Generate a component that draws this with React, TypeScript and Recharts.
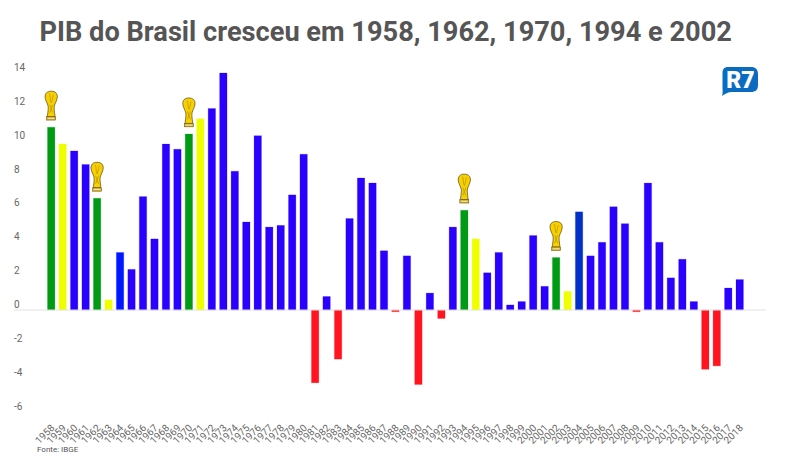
import { Bar, BarChart, Cell, LabelList, ReferenceLine, XAxis, YAxis } from 'recharts';

const YEARS = [
  '1958', '1959', '1960', '1961', '1962', '1963', '1964', '1965', '1966', '1967', '1968', '1969',
  '1970', '1971', '1972', '1973', '1974', '1975', '1976', '1977', '1978', '1979', '1980', '1981',
  '1982', '1983', '1984', '1985', '1986', '1987', '1988', '1989', '1990', '1991', '1992', '1993',
  '1994', '1995', '1996', '1997', '1998', '1999', '2000', '2001', '2002', '2003', '2004', '2005',
  '2006', '2007', '2008', '2009', '2010', '2011', '2012', '2013', '2014', '2015', '2016', '2017',
  '2018',
];

const GROWTH = [
  10.8, 9.8, 9.4, 8.6, 6.6, 0.6, 3.4, 2.4, 6.7, 4.2, 9.8, 9.5,
  10.4, 11.3, 11.9, 14.0, 8.2, 5.2, 10.3, 4.9, 5.0, 6.8, 9.2, -4.3,
  0.8, -2.9, 5.4, 7.8, 7.5, 3.5, -0.1, 3.2, -4.4, 1.0, -0.5, 4.9,
  5.9, 4.2, 2.2, 3.4, 0.3, 0.5, 4.4, 1.4, 3.1, 1.1, 5.8, 3.2,
  4.0, 6.1, 5.1, -0.1, 7.5, 4.0, 1.9, 3.0, 0.5, -3.5, -3.3, 1.3,
  1.8,
];

const CUP_YEARS = ['1958', '1962', '1970', '1994', '2002'];
const AFTER_CUP_YEARS = ['1959', '1963', '1971', '1995', '2003'];
const Y_TICKS = [-6, -4, -2, 0, 2, 4, 6, 8, 10, 12, 14];

const data = YEARS.map((year, i) => ({ year, growth: GROWTH[i] }));

function barColor(year: string, value: number) {
  if (CUP_YEARS.includes(year)) return '#009a14';
  if (AFTER_CUP_YEARS.includes(year)) return '#f0ff00';
  if (value < 0) return '#ff1420';
  if (year === '2004') return '#0030c8';
  if (year === '1964') return '#0018ff';
  return '#2a00ff';
}

function YTick({ y, payload }: any) {
  return (
    <text x={14} y={y - 5.5} dy={3.5} fontSize={10} fontFamily="Roboto" fill="#666" textAnchor="start">
      {payload.value}
    </text>
  );
}

function XTick({ x, y, payload }: any) {
  return (
    <text
      x={x + 4}
      y={y + 9}
      fontSize={10}
      fontFamily="Roboto"
      fill="#666"
      textAnchor="end"
      transform={`rotate(-45 ${x + 4} ${y + 9})`}
    >
      {payload.value}
    </text>
  );
}

// trofeu desenhado acima das barras dos anos de Copa
function Trophy({ x, y, width, index }: any) {
  if (!CUP_YEARS.includes(YEARS[index])) return null;
  const cx = x + width / 2;
  return (
    <g transform={`translate(${cx - 6.5} ${y - 36.5})`}>
      <path
        d="M6.5 0.5 C10.8 0.5 12.8 3 12.6 6.4 C12.4 10 10.2 12.5 9.6 15.5 C9.2 18 9.8 21 10.2 24.5 L10.2 26 L2.8 26 L2.8 24.5 C3.2 21 3.8 18 3.4 15.5 C2.8 12.5 0.6 10 0.4 6.4 C0.2 3 2.2 0.5 6.5 0.5 Z"
        fill="#f7d000"
        stroke="#3a2a00"
        strokeWidth={0.6}
      />
      <path d="M4.5 3 C6 5 5 9 6.5 12 M8.5 4 C8 7 7.5 10 6.5 12 M5 14 L8 22 M8 14 L5 22" stroke="#b89000" strokeWidth={0.7} fill="none" />
      <rect x={2} y={26} width={9} height={3.4} fill="#d8b020" stroke="#5a4a00" strokeWidth={0.5} />
      <rect x={3.2} y={27.2} width={6.6} height={1} fill="#e8e8c8" />
    </g>
  );
}

export default function App() {
  return (
    <div
      style={{
        position: 'absolute',
        left: 0,
        top: 0,
        width: 791,
        height: 462,
        background: '#fff',
        overflow: 'hidden',
      }}
    >
      <div
        style={{
          position: 'absolute',
          left: 39.5,
          top: 15.5,
          fontFamily: 'Roboto',
          fontWeight: 700,
          fontSize: 27.2,
          lineHeight: '32px',
          color: '#555',
          whiteSpace: 'nowrap',
        }}
      >
        PIB do Brasil cresceu em 1958, 1962, 1970, 1994 e 2002
      </div>

      <BarChart
        width={791}
        height={462}
        data={data}
        margin={{ top: 73, right: 25, left: 14, bottom: 0 }}
        barSize={7.4}
      >
        <XAxis
          dataKey="year"
          interval={0}
          height={50.4}
          axisLine={false}
          tickLine={false}
          padding={{ left: 31.5, right: 20.5 }}
          tick={<XTick />}
        />
        <YAxis
          mirror
          width={30}
          domain={[-6, 14]}
          ticks={Y_TICKS}
          axisLine={false}
          tickLine={false}
          tick={<YTick />}
        />
        <ReferenceLine y={0} stroke="#e2e2e2" strokeWidth={1} />
        <Bar dataKey="growth" isAnimationActive={false} strokeWidth={0.6}>
          {data.map((entry) => (
            <Cell
              key={entry.year}
              fill={barColor(entry.year, entry.growth)}
              stroke={barColor(entry.year, entry.growth)}
              strokeOpacity={0.35}
            />
          ))}
          <LabelList dataKey="growth" content={<Trophy />} />
        </Bar>
      </BarChart>

      <div
        style={{
          position: 'absolute',
          left: 37,
          top: 444,
          fontFamily: 'Roboto',
          fontSize: 8,
          lineHeight: '12px',
          color: '#555',
        }}
      >
        Fonte: IBGE
      </div>

      <svg style={{ position: 'absolute', left: 720, top: 65 }} width={40} height={34}>
        <path
          d="M8 2 H31 C35.5 2 38 4.5 38 9 V20 C38 25 35.5 27 31 27 H12 C8 27 5 29 2 31 C3 28 2.5 25 2.5 22 V8 C2.5 4 4.5 2 8 2 Z"
          fill="#0a6cc0"
        />
        <text x={20.5} y={22.5} textAnchor="middle" fontFamily="Roboto" fontWeight={900} fontSize={23} fill="#fff">
          R7
        </text>
      </svg>
    </div>
  );
}
